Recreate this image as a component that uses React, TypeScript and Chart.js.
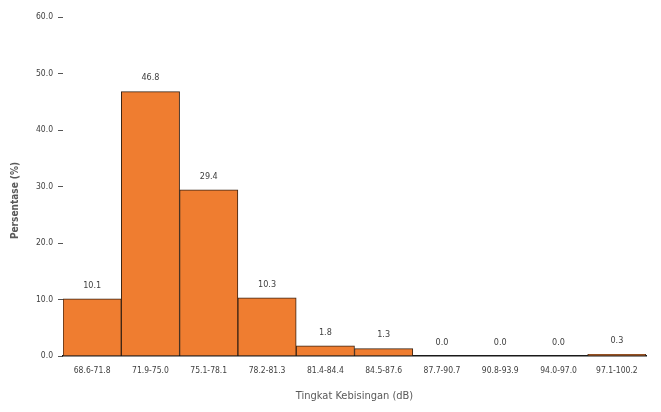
import React, { useEffect, useRef } from "react";
import { Chart, registerables } from "chart.js";

Chart.register(...registerables);

const categories = [
  "68.6-71.8",
  "71.9-75.0",
  "75.1-78.1",
  "78.2-81.3",
  "81.4-84.4",
  "84.5-87.6",
  "87.7-90.7",
  "90.8-93.9",
  "94.0-97.0",
  "97.1-100.2",
];
const percentages = [10.1, 46.8, 29.4, 10.3, 1.8, 1.3, 0.0, 0.0, 0.0, 0.3];
const yTicks = [0, 10, 20, 30, 40, 50, 60];
const yTitle = "Persentase (%)";
const xTitle = "Tingkat Kebisingan (dB)";

const FONT = "'DejaVu Sans Condensed', 'Liberation Sans', sans-serif";

const labelPlugin = {
  id: "valueLabels",
  afterDatasetsDraw(chart: any) {
    const ctx = chart.ctx;
    const meta = chart.getDatasetMeta(0);
    ctx.save();
    ctx.font = "9px " + FONT;
    ctx.fillStyle = "#404040";
    ctx.textAlign = "center";
    ctx.textBaseline = "bottom";
    meta.data.forEach((bar: any, i: number) => {
      ctx.fillText(percentages[i].toFixed(1), bar.x, bar.y - 9);
    });
    // y-axis title
    const area = chart.chartArea;
    ctx.translate(15, (area.top + area.bottom) / 2 + 14);
    ctx.rotate(-Math.PI / 2);
    ctx.font = "bold 10px " + FONT;
    ctx.fillStyle = "#595959";
    ctx.textBaseline = "middle";
    ctx.fillText(yTitle, 0, 0);
    ctx.restore();
  },
};

export default function App() {
  const ref = useRef<HTMLCanvasElement>(null);
  useEffect(() => {
    if (!ref.current) return;
    const chart = new Chart(ref.current, {
      type: "bar",
      data: {
        labels: categories,
        datasets: [
          {
            data: percentages,
            backgroundColor: "#EF7D30",
            borderColor: "#3a2414",
            borderWidth: 1,
            barPercentage: 1,
            categoryPercentage: 1,
          },
        ],
      },
      options: {
        animation: false,
        responsive: false,
        maintainAspectRatio: false,
        layout: { padding: { top: 17, right: 15, bottom: 9, left: 4 } },
        plugins: { legend: { display: false }, tooltip: { enabled: false } },
        scales: {
          x: {
            grid: { display: false },
            border: { display: true, color: "#1a1a1a", width: 1.5 },
            ticks: {
              color: "#404040",
              font: { size: 8.5, family: FONT },
              maxRotation: 0,
              autoSkip: false,
              padding: 2,
            },
            title: {
              display: true,
              text: xTitle,
              color: "#595959",
              font: { size: 11, family: FONT },
              padding: { top: 6, bottom: 0 },
            },
            afterFit: (axis: any) => {
              axis.height = 47;
            },
          },
          y: {
            min: 0,
            max: 60,
            afterBuildTicks: (axis: any) => {
              axis.ticks = yTicks.map((v) => ({ value: v }));
            },
            grid: {
              drawOnChartArea: false,
              drawTicks: true,
              tickLength: 5,
              color: "#555",
            },
            border: { display: false },
            ticks: {
              color: "#404040",
              font: { size: 8.5, family: FONT },
              padding: 5,
              callback: (v: any) => Number(v).toFixed(1),
            },
            afterFit: (axis: any) => {
              axis.width = 59;
            },
          },
        },
      },
      plugins: [labelPlugin],
    });
    return () => chart.destroy();
  }, []);
  return (
    <div style={{ position: "fixed", left: 0, top: 0, width: 661, height: 412, background: "#fff" }}>
      <canvas ref={ref} width={661} height={412} style={{ width: 661, height: 412 }} />
    </div>
  );
}
